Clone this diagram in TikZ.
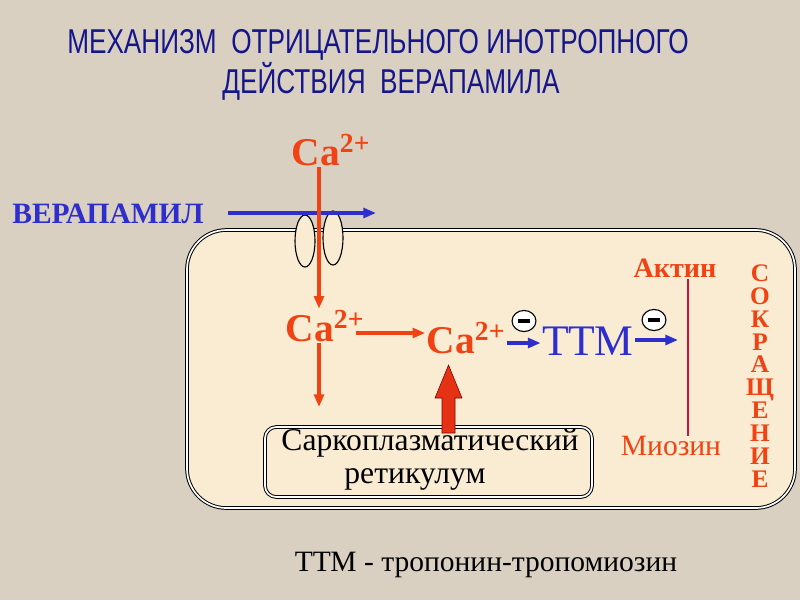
\documentclass[tikz,border=0pt]{standalone}
\usepackage{fontspec}
\setmainfont{Liberation Serif}
\newfontfamily\titlefont{Liberation Sans}[FakeStretch=0.76]
\usetikzlibrary{arrows.meta,shapes.geometric}

\definecolor{bgcol}{RGB}{217,208,193}
\definecolor{cellcol}{RGB}{250,236,211}
\definecolor{cared}{RGB}{240,66,18}
\definecolor{verblue}{RGB}{46,46,204}
\definecolor{titleblue}{RGB}{22,22,140}
\definecolor{filred}{RGB}{200,20,60}
\definecolor{blockred}{RGB}{230,50,20}

\begin{document}
\begin{tikzpicture}[x=0.025cm, y=-0.025cm,
  ion/.style={text=cared, font=\bfseries\fontsize{28}{28}\selectfont, inner sep=1pt},
  redarrow/.style={draw=cared, line width=2.5pt, -{Triangle[length=9pt,width=7pt]}},
  bluearrow/.style={draw=verblue, line width=2.4pt, -{Triangle[length=9pt,width=7pt]}},
  minusmark/.style={ellipse, draw, thick, fill=white, minimum width=17pt, minimum height=15pt, inner sep=0pt},
  doublebox/.style={draw, double, double distance=1.2pt, line width=0.7pt}]

% background and page size
\fill[bgcol] (0,0) rectangle (800,600);
\useasboundingbox (0,0) rectangle (800,600);

% title
\node[text=titleblue, font=\titlefont\fontsize{24.5}{25}\selectfont] (title1) at (378,45) {МЕХАНИЗМ\ \ ОТРИЦАТЕЛЬНОГО ИНОТРОПНОГО};
\node[text=titleblue, font=\titlefont\fontsize{24.5}{25}\selectfont] (title2) at (391,81) {ДЕЙСТВИЯ\ \ ВЕРАПАМИЛА};

% cell
\draw[doublebox, fill=cellcol, rounded corners=28] (187,230) rectangle (795,508);

% channel
\draw[thick, fill=cellcol] (305,241) ellipse (10 and 26);
\draw[thick, fill=cellcol] (333,238) ellipse (10 and 27);

% verapamil
\node[text=verblue, font=\bfseries\fontsize{21}{21}\selectfont] (verapamil) at (108,214) {ВЕРАПАМИЛ};
\coordinate (vera-start) at (228,213);
\coordinate (vera-end) at (376,213);
\draw[bluearrow] (vera-start) -- (vera-end);

% calcium
\node[ion] (ca-out) at (331,150) {Ca\textsuperscript{2+}};
\node[ion] (ca-in) at (325,326) {Ca\textsuperscript{2+}};
\node[ion] (ca-free) at (466,338) {Ca\textsuperscript{2+}};
\draw[redarrow] (ca-out.south -| 319,0) -- (ca-in.north -| 319,0);
\draw[redarrow] (ca-in.east |- 0,333) ++(-10,0) -- (ca-free.west |- 0,333);

% sarcoplasmic reticulum
\draw[doublebox, rounded corners=8] (265,427) rectangle (592,497);
\node[font=\fontsize{22.5}{33}\selectfont] (sr) at (430,443) {Саркоплазматический};
\node[font=\fontsize{22.5}{33}\selectfont] (sr2) at (415,479) {ретикулум};
\coordinate (sr-top) at (319,407);
\draw[redarrow] (ca-in.south -| 319,0) -- (sr-top);
\draw[draw=red!50!black, fill=blockred] (442,433) -- (442,398) -- (435,398) -- (448.5,365)
  -- (462,398) -- (455,398) -- (455,433) -- cycle;

% TTM
\node[text=verblue, font=\fontsize{31}{31}\selectfont, inner sep=1pt] (ttm) at (588,341) {ТТМ};
\draw[bluearrow] (ca-free.east |- 0,343) -- (ttm.west |- 0,343);
\node[minusmark] (minus1) at (524,321) {\rule{9pt}{2.8pt}};

% actin - myosin
\node[text=cared, font=\bfseries\fontsize{20}{20}\selectfont] (aktin) at (675,268) {Актин};
\node[text=cared, font=\fontsize{21}{21}\selectfont] (miozin) at (671,446) {Миозин};
\coordinate (fil-top) at (688,279);
\coordinate (fil-bot) at (688,436);
\draw[filred, line width=1.2pt] (fil-top) -- (fil-bot);
\coordinate (ttm-end) at (678,340);
\draw[bluearrow] (ttm.east |- 0,340) -- (ttm-end);
\node[minusmark] (minus2) at (654,320) {\rule{9pt}{2.8pt}};

% contraction
\node[text=cared, font=\bfseries\fontsize{18}{16.3}\selectfont, align=center] (sokr) at (760,376)
  {С\\О\\К\\Р\\А\\Щ\\Е\\Н\\И\\Е};

% legend
\node[font=\fontsize{21}{21}\selectfont] (legend) at (486,565) {ТТМ - тропонин-тропомиозин};
\end{tikzpicture}
\end{document}
